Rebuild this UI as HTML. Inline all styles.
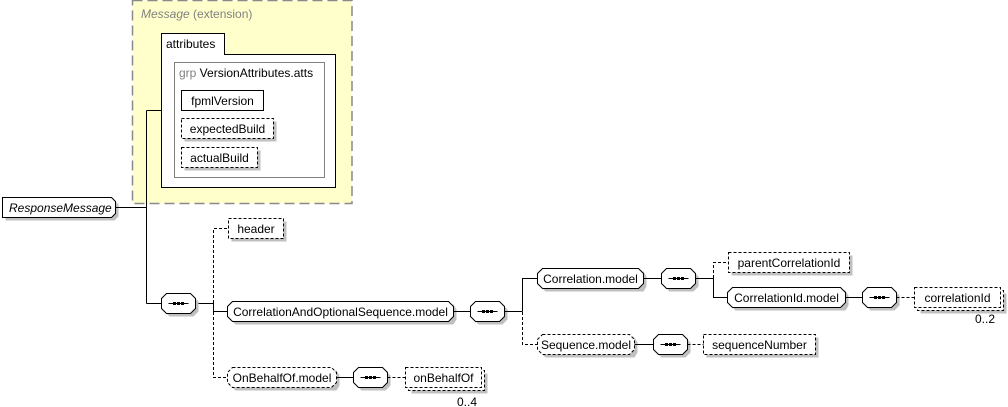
<!DOCTYPE html>
<html><head><meta charset="utf-8"><style>
html,body{margin:0;padding:0;background:#fff;}
svg{display:block;}
text{font-family:"Liberation Sans",Arial,sans-serif;font-size:12px;fill:#000;}
.sh{fill:#c0c0c0;stroke:none;}
.bx{fill:#fff;stroke:#000;stroke-width:1;}
.dbx{fill:#fff;stroke:#000;stroke-width:1;stroke-dasharray:3,2;}
.ln{fill:none;stroke:#000;stroke-width:1;}
.dl{fill:none;stroke:#000;stroke-width:1;stroke-dasharray:3,2;}
</style></head><body>
<svg width="1008" height="407" viewBox="0 0 1008 407" xmlns="http://www.w3.org/2000/svg">
<!-- extension box -->
<rect x="132.5" y="0.5" width="219.5" height="203" fill="#ffffcc" stroke="#8a8a8a" stroke-width="1.5" stroke-dasharray="10,5"/>
<text x="141" y="18" style="fill:#808080"><tspan font-style="italic">Message</tspan> (extension)</text>
<path d="M161.5,54.5 V33.5 H224.5 V54.5 H335.5 V187.5 H161.5 Z" class="bx"/>
<text x="166" y="48">attributes</text>
<rect x="174.5" y="62.5" width="150" height="115" fill="none" stroke="#808080"/>
<text x="179" y="77"><tspan style="fill:#808080">grp</tspan> VersionAttributes.atts</text>
<rect x="181.5" y="90.5" width="82" height="20" class="bx"/>
<text x="222.5" y="105" text-anchor="middle">fpmlVersion</text>
<rect x="184.5" y="121.5" width="92" height="20" class="sh"/>
<rect x="181.5" y="118.5" width="92" height="20" class="dbx"/>
<text x="227.5" y="133" text-anchor="middle">expectedBuild</text>
<rect x="184.5" y="150.5" width="76" height="20" class="sh"/>
<rect x="181.5" y="147.5" width="76" height="20" class="dbx"/>
<text x="219.5" y="162" text-anchor="middle">actualBuild</text>

<!-- ResponseMessage -->
<polygon points="5.5,200.5 114.5,200.5 118.5,204.5 118.5,216.5 114.5,220.5 5.5,220.5" class="sh"/>
<polygon points="2.5,197.5 111.5,197.5 115.5,201.5 115.5,213.5 111.5,217.5 2.5,217.5" class="bx"/>
<text x="9" y="212" font-style="italic">ResponseMessage</text>

<!-- connectors main -->
<path d="M115.5,207.5 H146.5 M146.5,110.5 V303.5 M146.5,110.5 H161.5 M146.5,303.5 H161.5" class="ln"/>
<path d="M195.5,303.5 H213.5 V311.5 H227.5" class="ln"/>
<path d="M213.5,303 V228.5 H228.5 M213.5,312 V377.5 H227.5" class="dl"/>

<!-- seq1 -->
<g transform="translate(161.5,293.5)">
<polygon points="8,3 32,3 37,8 37,18 32,23 8,23 3,18 3,8" class="sh"/>
<polygon points="5,0 29,0 34,5 34,15 29,20 5,20 0,15 0,5" class="bx"/>
<path d="M7,10 H27" class="ln"/><rect x="11.5" y="8.5" width="3" height="3" fill="#000"/><rect x="15.5" y="8.5" width="3" height="3" fill="#000"/><rect x="19.5" y="8.5" width="3" height="3" fill="#000"/>
</g>

<!-- header -->
<rect x="231.5" y="221.5" width="55" height="20" class="sh"/>
<rect x="228.5" y="218.5" width="55" height="20" class="dbx"/>
<text x="256" y="233" text-anchor="middle">header</text>

<!-- CAOS -->
<g transform="translate(227.5,301.5)">
<polygon points="8,3 226,3 229,8 229,18 226,23 8,23 3,18 3,8" class="sh"/>
<polygon points="5,0 221,0 226,5 226,15 221,20 5,20 0,15 0,5" class="bx"/>
<text x="113" y="14.5" text-anchor="middle">CorrelationAndOptionalSequence.model</text>
</g>

<!-- OnBehalfOf.model -->
<g transform="translate(227.5,367.5)">
<polygon points="8,3 109,3 112,8 112,18 109,23 8,23 3,18 3,8" class="sh"/>
<polygon points="5,0 104,0 109,5 109,15 104,20 5,20 0,15 0,5" class="dbx"/>
<text x="54.5" y="14.5" text-anchor="middle">OnBehalfOf.model</text>
</g>
<path d="M336.5,377.5 H353.5" class="ln"/>
<g transform="translate(353.5,367.5)">
<polygon points="8,3 32,3 37,8 37,18 32,23 8,23 3,18 3,8" class="sh"/>
<polygon points="5,0 29,0 34,5 34,15 29,20 5,20 0,15 0,5" class="bx"/>
<path d="M7,10 H27" class="ln"/><rect x="11.5" y="8.5" width="3" height="3" fill="#000"/><rect x="15.5" y="8.5" width="3" height="3" fill="#000"/><rect x="19.5" y="8.5" width="3" height="3" fill="#000"/>
</g>
<path d="M387.5,377.5 H405.5" class="dl"/>
<rect x="411.5" y="373.5" width="76" height="20" class="sh"/>
<rect x="408.5" y="370.5" width="76" height="20" class="dbx"/>
<rect x="405.5" y="367.5" width="76" height="20" class="dbx"/>
<text x="443.5" y="382" text-anchor="middle">onBehalfOf</text>
<text x="477" y="406" text-anchor="end">0..4</text>

<!-- seq2 -->
<path d="M453.5,311.5 H470.5" class="ln"/>
<g transform="translate(470.5,301.5)">
<polygon points="8,3 32,3 37,8 37,18 32,23 8,23 3,18 3,8" class="sh"/>
<polygon points="5,0 29,0 34,5 34,15 29,20 5,20 0,15 0,5" class="bx"/>
<path d="M7,10 H27" class="ln"/><rect x="11.5" y="8.5" width="3" height="3" fill="#000"/><rect x="15.5" y="8.5" width="3" height="3" fill="#000"/><rect x="19.5" y="8.5" width="3" height="3" fill="#000"/>
</g>
<path d="M504.5,311.5 H522.5 M522.5,311.5 V278.5 H537.5" class="ln"/>
<path d="M522.5,312 V344.5 H537.5" class="dl"/>

<!-- Correlation.model -->
<g transform="translate(537.5,268.5)">
<polygon points="8,3 106,3 109,8 109,18 106,23 8,23 3,18 3,8" class="sh"/>
<polygon points="5,0 101,0 106,5 106,15 101,20 5,20 0,15 0,5" class="bx"/>
<text x="53" y="14.5" text-anchor="middle">Correlation.model</text>
</g>
<path d="M643.5,278.5 H661.5" class="ln"/>
<g transform="translate(661.5,268.5)">
<polygon points="8,3 32,3 37,8 37,18 32,23 8,23 3,18 3,8" class="sh"/>
<polygon points="5,0 29,0 34,5 34,15 29,20 5,20 0,15 0,5" class="bx"/>
<path d="M7,10 H27" class="ln"/><rect x="11.5" y="8.5" width="3" height="3" fill="#000"/><rect x="15.5" y="8.5" width="3" height="3" fill="#000"/><rect x="19.5" y="8.5" width="3" height="3" fill="#000"/>
</g>
<path d="M695.5,278.5 H713.5 V297.5 H727.5" class="ln"/>
<path d="M713.5,278 V262.5 H728.5" class="dl"/>

<!-- parentCorrelationId -->
<rect x="731.5" y="255.5" width="121" height="20" class="sh"/>
<rect x="728.5" y="252.5" width="121" height="20" class="dbx"/>
<text x="789" y="267" text-anchor="middle">parentCorrelationId</text>

<!-- CorrelationId.model -->
<g transform="translate(727.5,287.5)">
<polygon points="8,3 118,3 121,8 121,18 118,23 8,23 3,18 3,8" class="sh"/>
<polygon points="5,0 113,0 118,5 118,15 113,20 5,20 0,15 0,5" class="bx"/>
<text x="59" y="14.5" text-anchor="middle">CorrelationId.model</text>
</g>
<path d="M845.5,297.5 H862.5" class="ln"/>
<g transform="translate(862.5,287.5)">
<polygon points="8,3 32,3 37,8 37,18 32,23 8,23 3,18 3,8" class="sh"/>
<polygon points="5,0 29,0 34,5 34,15 29,20 5,20 0,15 0,5" class="bx"/>
<path d="M7,10 H27" class="ln"/><rect x="11.5" y="8.5" width="3" height="3" fill="#000"/><rect x="15.5" y="8.5" width="3" height="3" fill="#000"/><rect x="19.5" y="8.5" width="3" height="3" fill="#000"/>
</g>
<path d="M896.5,297.5 H914.5" class="dl"/>
<rect x="920.5" y="293.5" width="86" height="20" class="sh"/>
<rect x="917.5" y="290.5" width="86" height="20" class="dbx"/>
<rect x="914.5" y="287.5" width="86" height="20" class="dbx"/>
<text x="957.5" y="302" text-anchor="middle">correlationId</text>
<text x="995" y="323" text-anchor="end">0..2</text>

<!-- Sequence.model -->
<g transform="translate(537.5,334.5)">
<polygon points="8,3 97,3 100,8 100,18 97,23 8,23 3,18 3,8" class="sh"/>
<polygon points="5,0 92,0 97,5 97,15 92,20 5,20 0,15 0,5" class="dbx"/>
<text x="48.5" y="14.5" text-anchor="middle">Sequence.model</text>
</g>
<path d="M634.5,344.5 H653.5" class="ln"/>
<g transform="translate(653.5,334.5)">
<polygon points="8,3 32,3 37,8 37,18 32,23 8,23 3,18 3,8" class="sh"/>
<polygon points="5,0 29,0 34,5 34,15 29,20 5,20 0,15 0,5" class="bx"/>
<path d="M7,10 H27" class="ln"/><rect x="11.5" y="8.5" width="3" height="3" fill="#000"/><rect x="15.5" y="8.5" width="3" height="3" fill="#000"/><rect x="19.5" y="8.5" width="3" height="3" fill="#000"/>
</g>
<path d="M687.5,344.5 H703.5" class="dl"/>
<rect x="706.5" y="337.5" width="112" height="20" class="sh"/>
<rect x="703.5" y="334.5" width="112" height="20" class="dbx"/>
<text x="759.5" y="349" text-anchor="middle">sequenceNumber</text>
</svg>
</body></html>
